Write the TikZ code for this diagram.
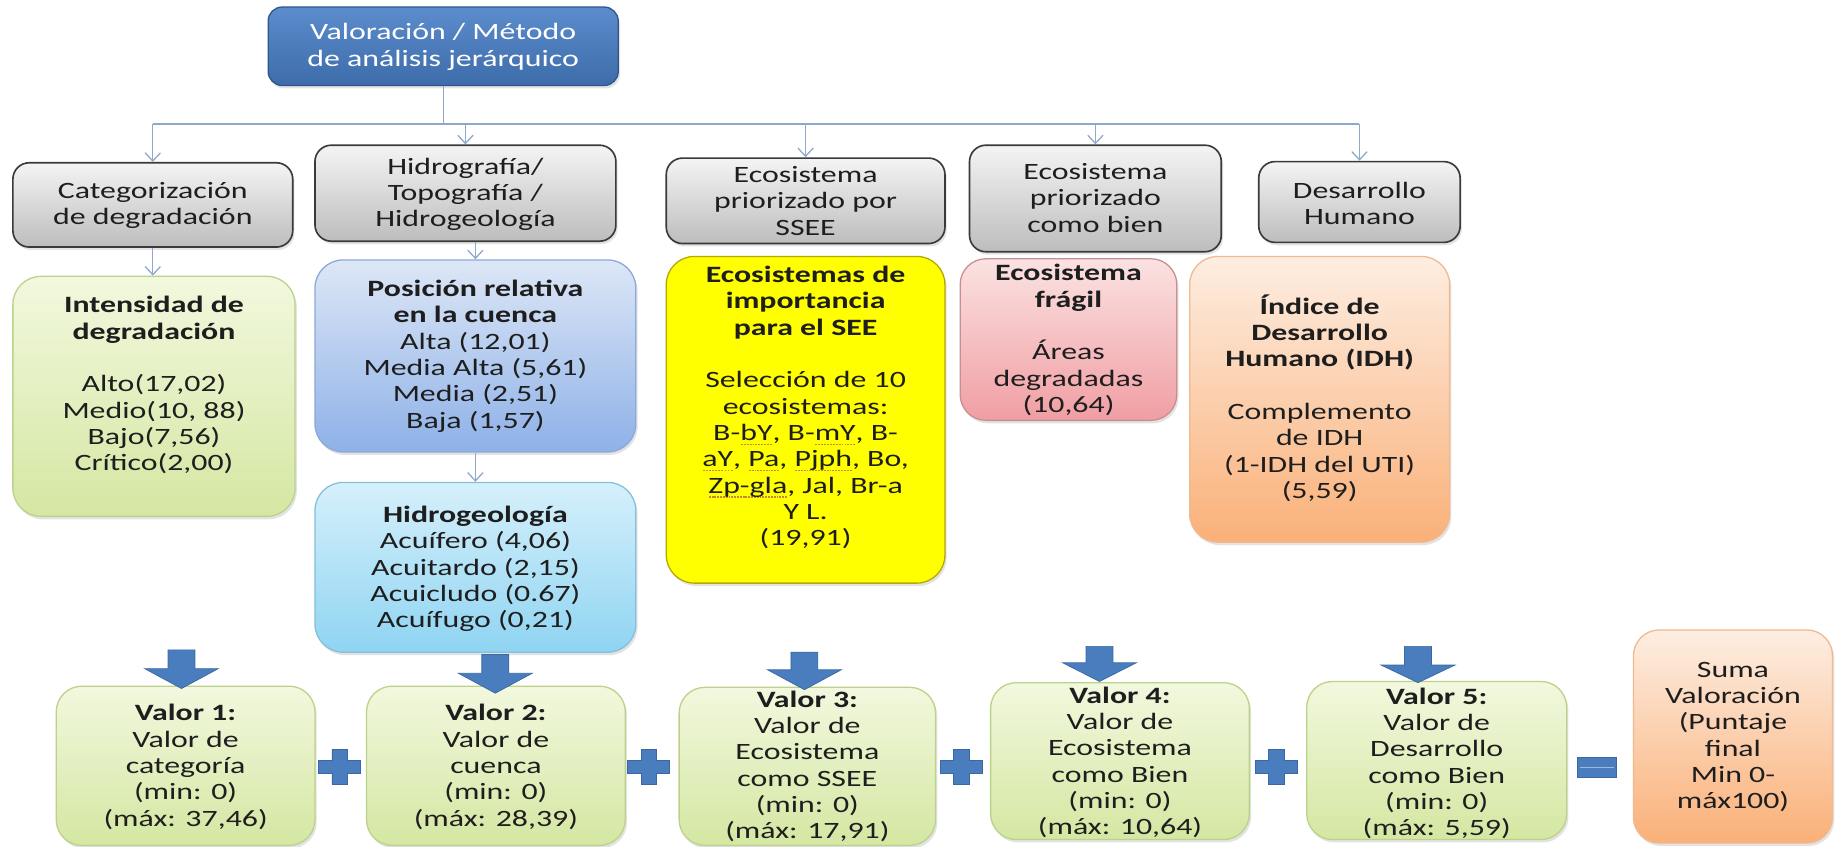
\documentclass[tikz,border=0pt]{standalone}
\usepackage{fontspec}
\setmainfont{Carlito}[FakeStretch=1.36]
\usetikzlibrary{arrows.meta,shadows,fit}

\definecolor{lineblue}{HTML}{8FA8CC}
\definecolor{topfillA}{HTML}{5B8CCB}
\definecolor{topfillB}{HTML}{3E6CAB}
\definecolor{topedge}{HTML}{2F5688}
\definecolor{grayA}{HTML}{F4F4F4}
\definecolor{grayB}{HTML}{BDBDBD}
\definecolor{grayedge}{HTML}{3A3A3A}
\definecolor{greenA}{HTML}{F2F8DE}
\definecolor{greenB}{HTML}{D4E7A2}
\definecolor{greenedge}{HTML}{BCD18A}
\definecolor{blueA}{HTML}{DDE7F6}
\definecolor{blueB}{HTML}{8EB1E8}
\definecolor{blueedge}{HTML}{8CA9D8}
\definecolor{cyanA}{HTML}{D6F0FB}
\definecolor{cyanB}{HTML}{8FD4F2}
\definecolor{cyanedge}{HTML}{84C0DA}
\definecolor{yelfill}{HTML}{FFFF00}
\definecolor{yeledge}{HTML}{B5A800}
\definecolor{pinkA}{HTML}{FBE2E2}
\definecolor{pinkB}{HTML}{F09EA3}
\definecolor{pinkedge}{HTML}{C98F90}
\definecolor{orA}{HTML}{FDEEE2}
\definecolor{orB}{HTML}{FAB078}
\definecolor{oredge}{HTML}{F2B88E}
\definecolor{arrowblue}{HTML}{4A7DBD}
\definecolor{arrowedge}{HTML}{3B68A3}
\definecolor{ink}{HTML}{1E1E1E}
\definecolor{squig}{HTML}{C8883A}

% dotted spell-check style underline
\newcommand\squig[1]{\leavevmode\setbox0=\hbox{#1}%
  \rlap{\raisebox{-4pt}{\textcolor{squig}{\hbox to \wd0{\xleaders\hbox{\kern0.4pt\rule{1.6pt}{1.3pt}\kern0.4pt}\hfill}}}}\box0}

% big down arrow: centre x, top, neck, tip
\newcommand\downblock[4]{%
  \fill[blockfill] (#1-11.5,#2) -- (#1+11.5,#2) -- (#1+11.5,#3) -- (#1+31.5,#3)
    -- (#1,#4) -- (#1-31.5,#3) -- (#1-11.5,#3) -- cycle;}
% plus sign: centre x, centre y
\newcommand\plusshape[2]{%
  \fill[blockfill] (#1-6.5,#2-15) -- (#1+6.5,#2-15) -- (#1+6.5,#2-5.5) -- (#1+18,#2-5.5)
    -- (#1+18,#2+5.5) -- (#1+6.5,#2+5.5) -- (#1+6.5,#2+15) -- (#1-6.5,#2+15)
    -- (#1-6.5,#2+5.5) -- (#1-18,#2+5.5) -- (#1-18,#2-5.5) -- (#1-6.5,#2-5.5) -- cycle;}

\tikzset{
  shadebox/.style={draw, line width=1.1pt, inner sep=0pt,
    drop shadow={shadow xshift=1.5pt, shadow yshift=-2.5pt, opacity=0.22}},
  topbox/.style={shadebox, rounded corners=12pt, draw=topedge, top color=topfillA, bottom color=topfillB},
  graybox/.style={shadebox, rounded corners=14pt, draw=grayedge, line width=1.4pt, top color=grayA, bottom color=grayB},
  greenbox/.style={shadebox, rounded corners=24pt, draw=greenedge, top color=greenA, bottom color=greenB},
  bluebox/.style={shadebox, rounded corners=24pt, draw=blueedge, top color=blueA, bottom color=blueB},
  cyanbox/.style={shadebox, rounded corners=24pt, draw=cyanedge, top color=cyanA, bottom color=cyanB},
  yellowbox/.style={shadebox, rounded corners=24pt, draw=yeledge, fill=yelfill},
  pinkbox/.style={shadebox, rounded corners=22pt, draw=pinkedge, top color=pinkA, bottom color=pinkB},
  orangebox/.style={shadebox, rounded corners=24pt, draw=oredge, top color=orA, bottom color=orB},
  valbox/.style={greenbox, rounded corners=22pt},
  txt/.style={align=center, font=\fontsize{20}{22.5}\selectfont, text=ink, inner sep=0pt},
  link/.style={draw=lineblue, line width=1.1pt},
  linkarrow/.style={link, -{Straight Barb[length=7pt,width=13pt]}},
  blockfill/.style={fill=arrowblue, draw=arrowedge, line width=0.6pt},
}

\begin{document}
\begin{tikzpicture}[x=1pt, y=-1pt]
\useasboundingbox (0,0) rectangle (1568,723);
\fill[white] (0,0) rectangle (1568,723);

% root
\node[topbox, fit={(229,6) (528,73)}] (top) {};
\node[txt, text=white] (topT) at (378.5,40) {Valoración / Método\\de análisis jerárquico};

% criteria row
\node[graybox, fit={(11,139) (250,211)}] (cat) {};
\node[txt] (catT) at (130.5,175.5) {Categorización\\de degradación};
\node[graybox, fit={(269,124) (526,206)}] (hidro) {};
\node[txt] (hidroT) at (397.5,166) {Hidrografía/\\Topografía /\\Hidrogeología};
\node[graybox, fit={(569,135) (807,208)}] (ssee) {};
\node[txt] (sseeT) at (688,171.5) {Ecosistema\\priorizado por\\SSEE};
\node[graybox, fit={(828,124) (1043,215)}] (bien) {};
\node[txt] (bienT) at (935.5,169) {Ecosistema\\priorizado\\como bien};
\node[graybox, fit={(1075,138) (1247,207)}] (desa) {};
\node[txt] (desaT) at (1161,173.5) {Desarrollo\\Humano};

% detail boxes
\node[greenbox, fit={(11,236) (252,441)}] (inten) {};
\node[txt] (intenT) at (131.5,329) {\textbf{Intensidad de}\\\textbf{degradación}\\[22.5pt]Alto(17,02)\\Medio(10, 88)\\Bajo(7,56)\\Crítico(2,00)};
\node[bluebox, fit={(269,222) (543,386)}] (pos) {};
\node[txt] (posT) at (406,304) {\textbf{Posición relativa}\\\textbf{en la cuenca}\\Alta (12,01)\\Media Alta (5,61)\\Media (2,51)\\Baja (1,57)};
\node[cyanbox, fit={(269,412) (543,557)}] (hgeo) {};
\node[txt] (hgeoT) at (406,486) {\textbf{Hidrogeología}\\Acuífero (4,06)\\Acuitardo (2,15)\\Acuicludo (0.67)\\Acuífugo (0,21)};
\node[yellowbox, fit={(569,219) (807,498)}] (yel) {};
\node[txt] (yelT) at (688,348) {\textbf{Ecosistemas de}\\\textbf{importancia}\\\textbf{para el SEE}\\[22.5pt]Selección de 10\\ecosistemas:\\B-\squig{bY}, B-\squig{mY}, B-\\\squig{aY}, \squig{Pa}, \squig{Pjph}, Bo,\\\squig{Zp-gla}, Jal, Br-a\\Y L.\\(19,91)};
\node[pinkbox, fit={(820,221) (1005,359)}] (frag) {};
\node[txt] (fragT) at (912.5,290.5) {\textbf{Ecosistema}\\\textbf{frágil}\\[22.5pt]Áreas\\degradadas\\(10,64)};
\node[orangebox, fit={(1016,219) (1238,463)}] (idh) {};
\node[txt] (idhT) at (1127,340) {\textbf{Índice de}\\\textbf{Desarrollo}\\\textbf{Humano (IDH)}\\[22.5pt]Complemento\\de IDH\\(1-IDH del UTI)\\(5,59)};

% connectors
\coordinate (rowL) at (cat.north |- 0,106);
\coordinate (rowR) at (desa.north |- 0,106);
\draw[link] (top.south) -- (top.south |- rowL);
\draw[link] (rowL) -- (rowR);
\draw[linkarrow] (rowL) -- (cat.north);
\draw[linkarrow] (hidro.north |- rowL) -- (hidro.north);
\draw[linkarrow] (ssee.north |- rowL) -- (ssee.north);
\draw[linkarrow] (bien.north |- rowL) -- (bien.north);
\draw[linkarrow] (rowR) -- (desa.north);
\draw[linkarrow] (cat.south) -- (cat.south |- inten.north);
\draw[linkarrow] (hidro.south -| pos.north) -- (pos.north);
\draw[linkarrow] (pos.south) -- (hgeo.north);

% value boxes
\node[valbox, fit={(48,586) (269,722)}] (v1) {};
\node[txt] (v1T) at (158.5,655) {\textbf{Valor 1:}\\Valor de\\categoría\\(min: 0)\\(máx: 37,46)};
\node[valbox, fit={(313,586) (534,722)}] (v2) {};
\node[txt] (v2T) at (423.5,655) {\textbf{Valor 2:}\\Valor de\\cuenca\\(min: 0)\\(máx: 28,39)};
\node[valbox, fit={(580,587) (799,722)}] (v3) {};
\node[txt] (v3T) at (689.5,654.5) {\textbf{Valor 3:}\\Valor de\\Ecosistema\\como SSEE\\(min: 0)\\(máx: 17,91)};
\node[valbox, fit={(846,583) (1067,717)}] (v4) {};
\node[txt] (v4T) at (956.5,651) {\textbf{Valor 4:}\\Valor de\\Ecosistema\\como Bien\\(min: 0)\\(máx: 10,64)};
\node[valbox, fit={(1116,582) (1338,717)}] (v5) {};
\node[txt] (v5T) at (1227,652) {\textbf{Valor 5:}\\Valor de\\Desarrollo\\como Bien\\(min: 0)\\(máx: 5,59)};
\node[orangebox, rounded corners=22pt, fit={(1395,538) (1565,720)}] (suma) {};
\node[txt] (sumaT) at (1480,629.5) {Suma\\Valoración\\(Puntaje\\final\\Min 0-\\máx100)};

% block arrows
\downblock{155}{555}{571}{588}
\downblock{423}{559}{575}{592}
\downblock{687}{557}{572}{589}
\downblock{939}{552}{566}{582}
\downblock{1211}{552}{568}{583}

% operators
\plusshape{290}{655}
\plusshape{554}{655}
\plusshape{821}{655}
\plusshape{1090}{655}
\fill[blockfill] (1347,647) rectangle (1380,664);
\draw[white!45!arrowblue, line width=1.4pt] (1349,655.5) -- (1378,655.5);
\end{tikzpicture}
\end{document}
